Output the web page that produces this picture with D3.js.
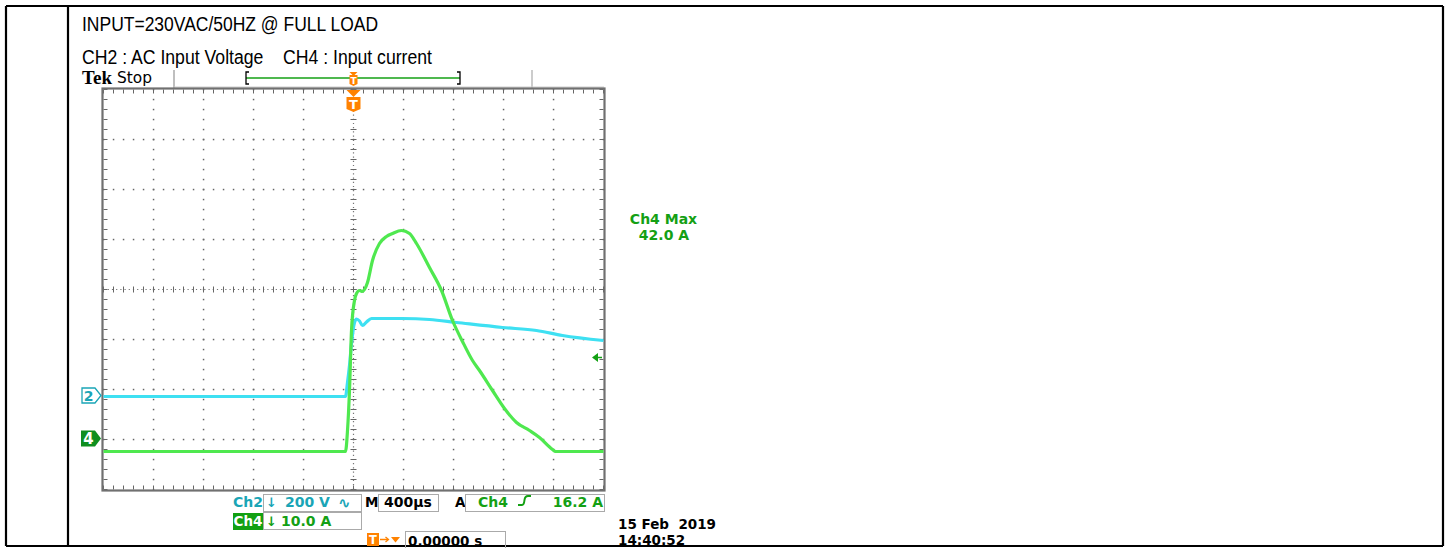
<!DOCTYPE html>
<html><head><meta charset="utf-8">
<script src="https://cdn.jsdelivr.net/npm/d3@7"></script>
<style>body{margin:0;background:#fff;} svg{display:block}</style>
</head><body>
<svg id="c" width="1451" height="548"></svg>
<script>
// ---------- DATA ----------
const headerLines = ["INPUT=230VAC/50HZ @ FULL LOAD", "CH2 : AC Input Voltage    CH4 : Input current"];
// time (µs) relative to trigger, 400 µs/div, 10 divisions
const timeDomain = [-2000, 2000];
// CH2 AC input voltage (V), 200 V/div
const ch2Time  = [-2000, -64, -48, -32, -16, 8, 24, 48, 72, 104, 144, 392, 608, 824, 1192, 1464, 1672, 2000];
const ch2Volts = [-4, -4, 52, 120, 208, 292, 306, 298, 280, 294, 308, 308, 304, 292, 272, 260, 240, 220];
// CH4 input current (A), 10 A/div
const ch4Time = [-2000, -64, -48, -32, -16, 8, 24, 48, 72, 88, 112, 152, 208, 264, 312, 384, 448, 504, 608, 704, 792, 872, 952, 1008, 1112, 1208, 1304, 1408, 1488, 1592, 1616, 2000];
const ch4Amps = [-2.6, -2.6, 1.6, 9.6, 21.6, 27.6, 29.0, 29.6, 29.4, 29.8, 31.2, 35.6, 39.0, 40.4, 41.0, 41.6, 41.0, 39.0, 34.2, 29.6, 23.6, 19.4, 15.6, 13.6, 9.6, 6.0, 3.2, 1.6, 0.2, -2.2, -2.6, -2.6];
const ch2VoltsPerDiv = 200, ch4AmpsPerDiv = 10;
const ch2GroundDiv = -2.12, ch4GroundDiv = -2.98;   // marker positions in divisions from centre
const ch4TriggerLevel = 16.2;
const ch4MaxLabel = ["Ch4 Max", "42.0 A"];
const readouts = {ch2: "200 V", ch4: "10.0 A", timebase: "400µs", trig: "Ch4", trigLevel: "16.2 A", trigPos: "0.00000 s"};
const dateLines = ["15 Feb  2019", "14:40:52"];

// ---------- DRAW ----------
const svg = d3.select("#c");
const CYAN = "#3ee0f2", GREEN = "#4fe84f", CYT = "#1aa5b6", GRT = "#14a014", ORANGE = "#ff8200";
const F = "'DejaVu Sans',sans-serif";

// outer table lines
const T = svg.append("g").attr("stroke", "#000").attr("stroke-width", 2.2);
[[6,6,1443,6],[6,546,1443,546],[6,6,6,546],[68,6,68,546],[1443,6,1443,546]].forEach(l=>{
  T.append("line").attr("x1",l[0]).attr("y1",l[1]).attr("x2",l[2]).attr("y2",l[3]);
});

// header texts
svg.append("text").attr("x",82).attr("y",31).attr("font-family","'Liberation Sans Narrow','Arial Narrow',sans-serif")
  .attr("font-size",19.5).attr("textLength",296).attr("lengthAdjust","spacingAndGlyphs").text(headerLines[0]);
svg.append("text").attr("x",82).attr("y",64).attr("font-family","'Liberation Sans Narrow','Arial Narrow',sans-serif")
  .attr("font-size",19.5).attr("textLength",350).attr("lengthAdjust","spacingAndGlyphs").attr("xml:space","preserve").style("white-space","pre").text(headerLines[1]);

svg.append("text").attr("x",82).attr("y",84).attr("font-family","'Liberation Serif',serif").attr("font-weight","bold")
  .attr("font-size",18).attr("textLength",30).attr("lengthAdjust","spacingAndGlyphs").text("Tek");
svg.append("text").attr("x",117).attr("y",83).attr("font-family",F)
  .attr("font-size",15).attr("textLength",35).attr("lengthAdjust","spacingAndGlyphs").text("Stop");

// scales
const x = d3.scaleLinear().domain(timeDomain).range([103.5, 603.5]);
const yDiv = d3.scaleLinear().domain([-4, 4]).range([489.5, 89.5]);
const xDiv = d3.scaleLinear().domain([-5, 5]).range([103.5, 603.5]);
const yV = d3.scaleLinear().domain([(-4 - ch2GroundDiv)*ch2VoltsPerDiv, (4 - ch2GroundDiv)*ch2VoltsPerDiv]).range([489.5, 89.5]);
const yA = d3.scaleLinear().domain([(-4 - ch4GroundDiv)*ch4AmpsPerDiv, (4 - ch4GroundDiv)*ch4AmpsPerDiv]).range([489.5, 89.5]);

// top status bar separators
svg.append("line").attr("x1",174).attr("y1",70).attr("x2",174).attr("y2",88).attr("stroke","#aaa").attr("stroke-width",1.5);
svg.append("line").attr("x1",532).attr("y1",70).attr("x2",532).attr("y2",88).attr("stroke","#bbb").attr("stroke-width",1.5);
svg.append("line").attr("x1",174).attr("y1",87).attr("x2",604).attr("y2",87).attr("stroke","#ccc").attr("stroke-width",1);
// record-length bracket
svg.append("line").attr("x1",246).attr("y1",78).attr("x2",460).attr("y2",78).attr("stroke",GRT).attr("stroke-width",1.5);
svg.append("path").attr("d","M249,72 L246,72 L246,84 L249,84 M457,72 L460,72 L460,84 L457,84").attr("fill","none").attr("stroke","#000").attr("stroke-width",1.3);

// graticule
const G = svg.append("g");
const minor = d3.range(-5, 5.001, 0.2), minorY = d3.range(-4, 4.001, 0.2);
d3.range(-4, 5).forEach(d => {
  if (d === 0) return;
  minorY.forEach(m => G.append("rect").attr("x", xDiv(d)-0.7).attr("y", yDiv(m)-0.7).attr("width",1.5).attr("height",1.5).attr("fill","#666"));
});
d3.range(-3, 4).forEach(d => {
  if (d === 0) return;
  minor.forEach(m => G.append("rect").attr("x", xDiv(m)-0.7).attr("y", yDiv(d)-0.7).attr("width",1.5).attr("height",1.5).attr("fill","#666"));
});
// centre lines
G.append("line").attr("x1",xDiv(-5)).attr("x2",xDiv(5)).attr("y1",yDiv(0)).attr("y2",yDiv(0)).attr("stroke","#777").attr("stroke-width",1.2).attr("stroke-dasharray","1.2,3");
G.append("line").attr("x1",xDiv(0)).attr("x2",xDiv(0)).attr("y1",yDiv(-4)).attr("y2",yDiv(4)).attr("stroke","#777").attr("stroke-width",1.2).attr("stroke-dasharray","1.2,3");
minor.forEach(m => G.append("line").attr("x1",xDiv(m)).attr("x2",xDiv(m)).attr("y1",yDiv(0)-3).attr("y2",yDiv(0)+3).attr("stroke","#666").attr("stroke-width",1));
minorY.forEach(m => G.append("line").attr("x1",xDiv(0)-3).attr("x2",xDiv(0)+3).attr("y1",yDiv(m)).attr("y2",yDiv(m)).attr("stroke","#666").attr("stroke-width",1));
// edge ticks
minor.forEach(m => {
  G.append("line").attr("x1",xDiv(m)).attr("x2",xDiv(m)).attr("y1",yDiv(4)).attr("y2",yDiv(4)+4).attr("stroke","#666").attr("stroke-width",1);
  G.append("line").attr("x1",xDiv(m)).attr("x2",xDiv(m)).attr("y1",yDiv(-4)).attr("y2",yDiv(-4)-4).attr("stroke","#666").attr("stroke-width",1);
});
minorY.forEach(m => {
  G.append("line").attr("x1",xDiv(-5)).attr("x2",xDiv(-5)+4).attr("y1",yDiv(m)).attr("y2",yDiv(m)).attr("stroke","#666").attr("stroke-width",1);
  G.append("line").attr("x1",xDiv(5)).attr("x2",xDiv(5)-4).attr("y1",yDiv(m)).attr("y2",yDiv(m)).attr("stroke","#666").attr("stroke-width",1);
});
// frame
G.append("rect").attr("x",xDiv(-5)-1).attr("y",yDiv(4)-1).attr("width",xDiv(5)-xDiv(-5)+2).attr("height",yDiv(-4)-yDiv(4)+2)
  .attr("fill","none").attr("stroke","#707070").attr("stroke-width",2.2);

// traces
const lineV = d3.line().x((d,i)=>x(ch2Time[i])).y(d=>yV(d)).curve(d3.curveMonotoneX);
const lineA = d3.line().x((d,i)=>x(ch4Time[i])).y(d=>yA(d)).curve(d3.curveMonotoneX);
svg.append("path").attr("d", lineV(ch2Volts)).attr("fill","none").attr("stroke",CYAN).attr("stroke-width",3.2).attr("stroke-linejoin","round");
svg.append("path").attr("d", lineA(ch4Amps)).attr("fill","none").attr("stroke",GREEN).attr("stroke-width",3.2).attr("stroke-linejoin","round");

// channel ground markers
const g2 = yV(0), g4 = yA(0);
svg.append("path").attr("d",`M82,${g2-7.5} L95,${g2-7.5} L101,${g2} L95,${g2+7.5} L82,${g2+7.5} Z`).attr("fill","#fff").attr("stroke",CYT).attr("stroke-width",1.3);
svg.append("text").attr("x",88.5).attr("y",g2+5.5).attr("text-anchor","middle").attr("font-family",F).attr("font-weight","bold").attr("font-size",14).attr("fill",CYT).text("2");
svg.append("path").attr("d",`M81,${g4-8} L95,${g4-8} L101,${g4} L95,${g4+8} L81,${g4+8} Z`).attr("fill","#0f8f1f");
svg.append("text").attr("x",88.5).attr("y",g4+5.5).attr("text-anchor","middle").attr("font-family",F).attr("font-weight","bold").attr("font-size",15).attr("fill","#fff").text("4");

// trigger level marker (right)
const tl = yA(ch4TriggerLevel);
svg.append("path").attr("d",`M592,${tl} L598,${tl-4.5} L598,${tl+4.5} Z`).attr("fill",GRT);
svg.append("line").attr("x1",596).attr("x2",602).attr("y1",tl).attr("y2",tl).attr("stroke",GRT).attr("stroke-width",1.5);

// trigger position markers
const tx = x(0);
svg.append("path").attr("d",`M${tx-4},72 L${tx+4},72 L${tx},76 Z`).attr("fill",ORANGE);
svg.append("path").attr("d",`M${tx-4},75 L${tx+4},75 L${tx+4},84 L${tx},86 L${tx-4},84 Z`).attr("fill",ORANGE);
svg.append("text").attr("x",tx).attr("y",84).attr("text-anchor","middle").attr("font-family",F).attr("font-weight","bold").attr("font-size",9).attr("fill","#fff").text("T");
svg.append("path").attr("d",`M${tx-7},90 L${tx+7},90 L${tx},97 Z`).attr("fill",ORANGE);
svg.append("path").attr("d",`M${tx-7},97 L${tx+7},97 L${tx+7},109 L${tx},112 L${tx-7},109 Z`).attr("fill",ORANGE);
svg.append("text").attr("x",tx).attr("y",109).attr("text-anchor","middle").attr("font-family",F).attr("font-weight","bold").attr("font-size",13).attr("fill","#fff").text("T");

// Ch4 Max measurement
svg.append("text").attr("x",663.5).attr("y",224).attr("text-anchor","middle").attr("font-family",F).attr("font-weight","bold").attr("font-size",14).attr("fill",GRT).text(ch4MaxLabel[0]);
svg.append("text").attr("x",664).attr("y",240).attr("text-anchor","middle").attr("font-family",F).attr("font-weight","bold").attr("font-size",14).attr("fill",GRT).text(ch4MaxLabel[1]);

// bottom readouts
const box = (x0,y0,w,h)=>svg.append("rect").attr("x",x0).attr("y",y0).attr("width",w).attr("height",h).attr("fill","none").attr("stroke","#aaa").attr("stroke-width",1);
const txt = (x0,y0,s,c,sz,anchor)=>svg.append("text").attr("x",x0).attr("y",y0).attr("font-family",F).attr("font-weight","bold").attr("font-size",sz||14).attr("fill",c).attr("text-anchor",anchor||"start").attr("xml:space","preserve").style("white-space","pre").text(s);
// row 1
txt(233,507,"Ch2",CYT);
box(263.5,494.5,98,17);
txt(266,507,"↓",CYT,13); txt(285,507,readouts.ch2,CYT); txt(338,507.5,"∿",CYT,15);
txt(365,507,"M","#000",13.5);
box(378.5,494.5,60,17); txt(384,507,readouts.timebase,"#000");
txt(455,507,"A","#000",13.5);
box(465.5,494.5,139,17); txt(478,507,readouts.trig,GRT);
svg.append("path").attr("d","M518,505 L522,505 Q524,505 524.5,500 Q525,496 528,496 L531,496").attr("fill","none").attr("stroke",GRT).attr("stroke-width",2);
txt(603,507,readouts.trigLevel,GRT,14,"end");
// row 2
svg.append("rect").attr("x",233).attr("y",513).attr("width",30).attr("height",17).attr("fill","#12a012");
txt(233.5,526,"Ch4","#fff",13.5);
box(263.5,512.5,98,17);
txt(266,526,"↓",GRT,13); txt(281,526,readouts.ch4,GRT);
// row 3
svg.append("rect").attr("x",367).attr("y",533).attr("width",12).attr("height",13).attr("fill",ORANGE);
svg.append("text").attr("x",373).attr("y",544).attr("text-anchor","middle").attr("font-family",F).attr("font-weight","bold").attr("font-size",11.5).attr("fill","#fff").text("T");
svg.append("line").attr("x1",380).attr("x2",388).attr("y1",539.5).attr("y2",539.5).attr("stroke",ORANGE).attr("stroke-width",1.5);
svg.append("path").attr("d","M385.5,537 L388.5,539.5 L385.5,542").attr("fill","none").attr("stroke",ORANGE).attr("stroke-width",1.3);
svg.append("path").attr("d","M391,537 L400,537 L395.5,542.5 Z").attr("fill",ORANGE);
box(405.5,531.5,100,18); txt(408,545.5,readouts.trigPos,"#000",13.5);
// date / time
txt(618,528.5,dateLines[0],"#000",13.5);
txt(618,545,dateLines[1],"#000",13.5);
</script>
</body></html>
